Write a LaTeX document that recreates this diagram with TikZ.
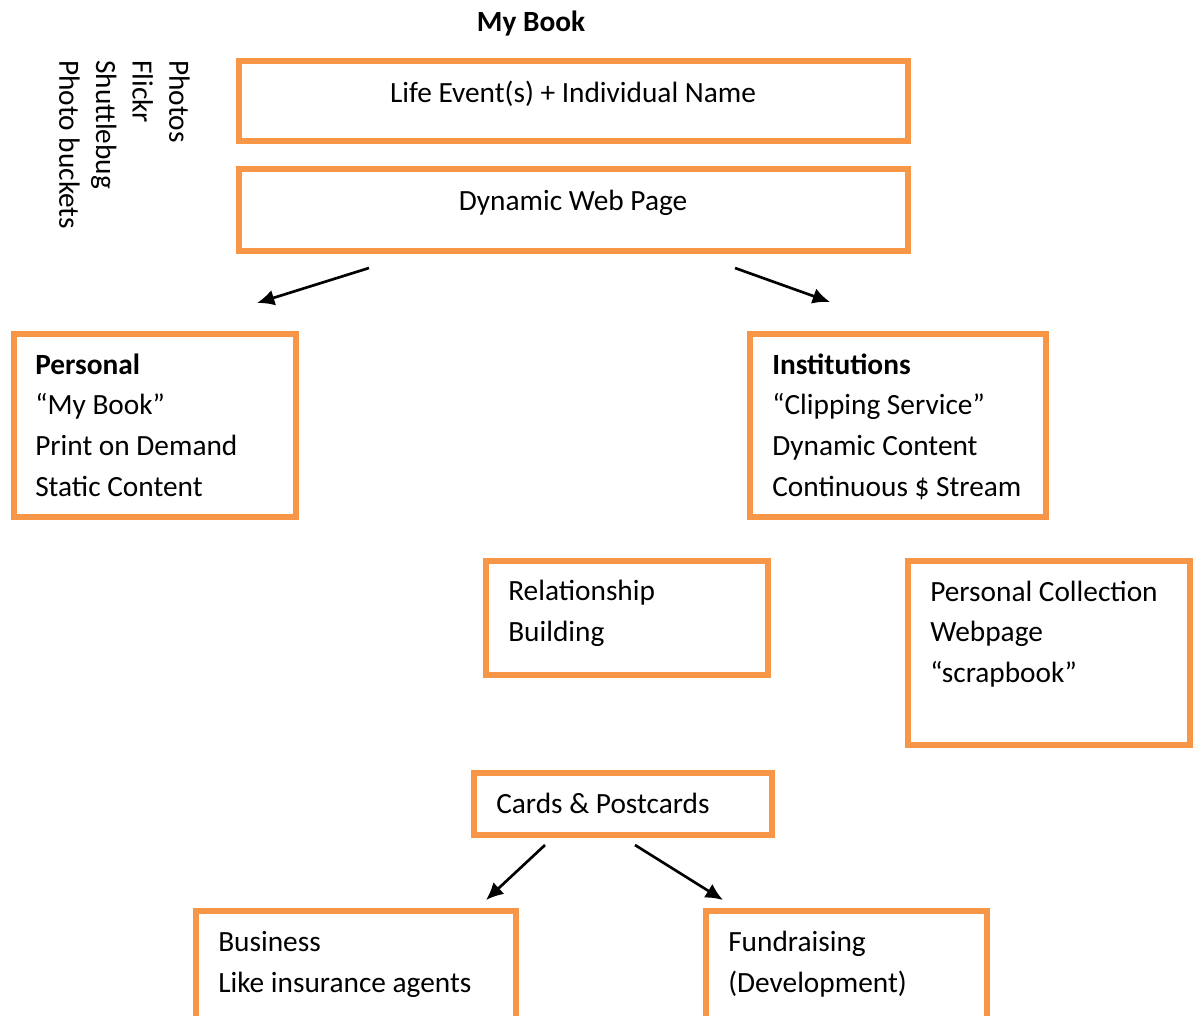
\documentclass[tikz,border=0pt]{standalone}
\usepackage{fontspec}
\setmainfont{Carlito}
\usetikzlibrary{arrows.meta,fit}
\definecolor{boxorange}{HTML}{F79646}
\tikzset{
  box/.style={draw=boxorange, line width=4.5pt, inner sep=0pt},
  txt/.style={font=\fontsize{22}{30.5}\selectfont, inner sep=0pt, align=left},
  titletxt/.style={font=\fontsize{22}{30.5}\selectfont\bfseries, inner sep=0pt},
  srctxt/.style={font=\fontsize{22}{27.5}\selectfont, inner sep=0pt, align=left},
  arr/.style={line width=2pt, -{Latex[length=13pt,width=12pt]}},
}
\begin{document}
\begin{tikzpicture}[x=0.75pt,y=-0.75pt]
  \useasboundingbox (0,0) rectangle (1194,1015);
  \clip (0,0) rectangle (1194,1015);
  %% title
  \node[titletxt, anchor=base] (title) at (531,31) {My Book};
  %% photo sources
  \node[srctxt, rotate=-90, anchor=north west] (sources) at (190,60)
    {Photos\\Flickr\\Shuttlebug\\Photo buckets};
  %% top boxes
  \node[box, fit={(238.5,60.7) (907.5,140.5)}] (life) {};
  \node[txt, anchor=base] (lifetxt) at (573,102) {Life Event(s) + Individual Name};
  \node[box, fit={(238.5,168.5) (907.5,250.5)}] (web) {};
  \node[txt, anchor=base] (webtxt) at (573,210) {Dynamic Web Page};
  %% personal (base = last line)
  \node[box, fit={(14,333.5) (296,516.5)}] (personal) {};
  \node[txt, anchor=base west] (personaltxt) at (35,496)
    {\textbf{Personal}\\“My Book”\\Print on Demand\\Static Content};
  %% institutions
  \node[box, fit={(750,333.5) (1046,516.5)}] (inst) {};
  \node[txt, anchor=base west] (insttxt) at (772,496)
    {\textbf{Institutions}\\“Clipping Service”\\Dynamic Content\\Continuous \$ Stream};
  %% relationship building
  \node[box, fit={(486,561) (768,674.5)}] (rel) {};
  \node[txt, anchor=base west] (reltxt) at (508,641.5) {Relationship\\Building};
  %% personal collection
  \node[box, fit={(908,561) (1190,744.5)}] (coll) {};
  \node[txt, anchor=base west] (colltxt) at (930,682.5)
    {Personal Collection\\Webpage\\“scrapbook”};
  %% cards
  \node[box, fit={(474,773) (772,835)}] (cards) {};
  \node[txt, anchor=base west] (cardstxt) at (496,813) {Cards \& Postcards};
  %% business and fundraising
  \node[box, fit={(196,911) (516,1030)}] (business) {};
  \node[txt, anchor=base west] (businesstxt) at (218,992.5) {Business\\Like insurance agents};
  \node[box, fit={(706,911) (987,1030)}] (fund) {};
  \node[txt, anchor=base west] (fundtxt) at (728,992.5) {Fundraising\\(Development)};
  %% arrows
  \coordinate (a1s) at (369,268); \coordinate (a1e) at (257,303);
  \coordinate (a2s) at (735,268); \coordinate (a2e) at (830,302);
  \coordinate (a3s) at (545,845); \coordinate (a3e) at (486,900);
  \coordinate (a4s) at (635,845); \coordinate (a4e) at (723,900);
  \draw[arr] (a1s) -- (a1e);
  \draw[arr] (a2s) -- (a2e);
  \draw[arr] (a3s) -- (a3e);
  \draw[arr] (a4s) -- (a4e);
\end{tikzpicture}
\end{document}
